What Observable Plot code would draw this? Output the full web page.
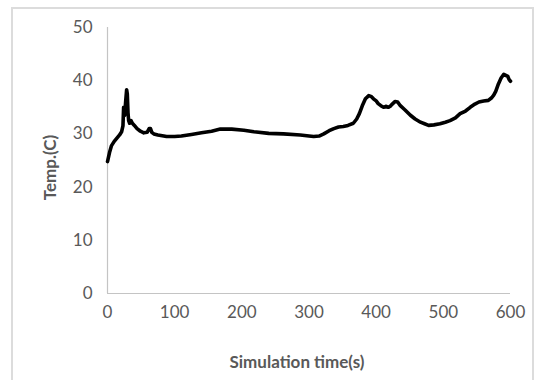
<!DOCTYPE html>
<html>
<head>
<meta charset="utf-8">
<script src="https://cdn.jsdelivr.net/npm/d3@7"></script>
<script src="https://cdn.jsdelivr.net/npm/@observablehq/plot@0.6"></script>
<style>
  html, body { margin: 0; padding: 0; background: #fff; }
  #wrap { position: relative; width: 538px; height: 380px; overflow: hidden; }
  #frame { position: absolute; left: 11px; top: 7px; width: 519px; height: 380px; border: 2px solid #dcdcdc; pointer-events: none; }
</style>
</head>
<body>
<div id="wrap"><div id="frame"></div></div>
<script>
const time = [0,3,6,10,14,18,21,23,24,25.5,27,28.5,29.5,30.5,31.5,33,35,37,40,44,49,54,59,62,64,66,69,75,88,100,110,125,140,155,168,185,203,218,240,262,287,300,307,315,322,330,337,344,351,358,366,371,375,380,384,389,393,396,400,403,407,411,415,418,421,424,428,432,436,443,451,458,466,472,478,486,495,503,510,518,525,533,540,547,553,560,567,572,575,578,582,586,590,593,596,598,600];
const temp = [24.8,26.5,27.8,28.6,29.2,29.8,30.4,31.5,35,33.5,36,38.3,37.5,34,32.5,32,32.5,32,31.6,31,30.5,30.2,30.3,31,31,30.3,30,29.8,29.5,29.5,29.6,29.9,30.2,30.5,30.9,30.9,30.7,30.4,30.1,30,29.8,29.6,29.5,29.6,30,30.6,31,31.3,31.4,31.6,32,32.8,33.8,35.5,36.6,37.2,37,36.6,36.2,35.7,35.3,35,35.2,35,35.2,35.6,36.1,36,35.3,34.5,33.5,32.8,32.2,31.9,31.6,31.7,31.9,32.2,32.5,33,33.8,34.3,35,35.6,36,36.2,36.3,36.8,37.3,38,39.4,40.5,41.2,41,40.8,40.2,39.9];
const xTicks = [0,100,200,300,400,500,600];
const yTicks = [0,10,20,30,40,50];
const xTitle = "Simulation time(s)";
const yTitle = "Temp.(C)";

const data = time.map((t, i) => ({t, v: temp[i]}));

const chart = Plot.plot({
  width: 538,
  height: 380,
  marginLeft: 107,
  marginRight: 28,
  marginTop: 27,
  marginBottom: 87,
  style: {fontFamily: "Lato, 'Open Sans', sans-serif", fontSize: "17px", color: "#595959", background: "transparent"},
  x: {domain: [0, 600]},
  y: {domain: [0, 50]},
  marks: [
    Plot.ruleY([0], {stroke: "#c4c4c4", strokeWidth: 1.2}),
    Plot.ruleX([0], {stroke: "#c4c4c4", strokeWidth: 1.2}),
    Plot.axisX({ticks: xTicks, tickSize: 0, tickPadding: 12, label: null, fill: "#595959", fontSize: 17}),
    Plot.axisY({ticks: yTicks, tickSize: 0, tickPadding: 15, label: null, fill: "#595959", fontSize: 17}),
    Plot.line(data, {x: "t", y: "v", stroke: "#000", strokeWidth: 3.6, strokeLinejoin: "round", strokeLinecap: "round"}),
    Plot.text([xTitle], {frameAnchor: "bottom", lineAnchor: "middle", textAnchor: "middle", dy: 69, dx: -12, fontWeight: "bold", fontSize: 17, fill: "#595959"}),
    Plot.text([yTitle], {frameAnchor: "left", lineAnchor: "middle", textAnchor: "middle", rotate: -90, dx: -57, dy: 7, fontWeight: "bold", fontSize: 17, fill: "#595959"})
  ]
});
chart.style.position = "absolute";
chart.style.left = "0px";
chart.style.top = "0px";
document.getElementById("wrap").appendChild(chart);
</script>
</body>
</html>
